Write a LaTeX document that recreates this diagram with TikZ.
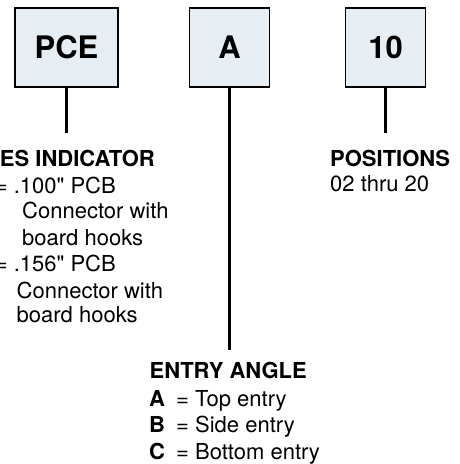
\documentclass[tikz,border=0pt]{standalone}
\usepackage{fontspec}
\newfontfamily\hv{TeX Gyre Heros}
\definecolor{boxfill}{HTML}{E6EEF4}
\tikzset{
  x=1pt,y=-1pt,
  codebox/.style={draw=black,line width=1.2pt,fill=boxfill,minimum height=79pt,inner sep=0pt,font=\hv\bfseries\fontsize{31}{31}\selectfont},
  stem/.style={draw=black,line width=2.2pt},
  txt/.style={inner sep=0pt,anchor=base west,font=\hv\fontsize{22}{22}\selectfont},
  head/.style={txt,font=\hv\bfseries\fontsize{22}{22}\selectfont}
}
\begin{document}
\begin{tikzpicture}
\useasboundingbox (0,0) rectangle (460,464);
\node[codebox,minimum width=103pt] (pce) at (66.5,47.5) {PCE};
\node[codebox,minimum width=79.5pt] (a) at (229.5,47.5) {A};
\node[codebox,minimum width=79.5pt] (ten) at (385.5,47.5) {10};
\coordinate (pe) at (66.5,133);
\coordinate (ae) at (229.5,350);
\coordinate (te) at (385.5,133);
\draw[stem] (pce.south) -- (pe);
\draw[stem] (a.south) -- (ae);
\draw[stem] (ten.south) -- (te);
\node[head,anchor=base east] (h1) at (155,166) {ES INDICATOR};
\node[txt,anchor=base east] (l1) at (116,193) {= .100" PCB};
\node[txt] (l2) at (22,218.5) {Connector with};
\node[txt] (l3) at (22,245) {board hooks};
\node[txt,anchor=base east] (l4) at (116,271.5) {= .156" PCB};
\node[txt] (l5) at (16.5,298) {Connector with};
\node[txt] (l6) at (16.5,322.5) {board hooks};
\node[head] (h2) at (330,166) {POSITIONS};
\node[txt] (p1) at (330,191) {02 thru 20};
\node[head] (h3) at (149.5,378.5) {ENTRY ANGLE};
\node[head] (b1) at (149,406) {A};
\node[txt] (t1) at (176,406) {= Top entry};
\node[head] (b2) at (149,432.5) {B};
\node[txt] (t2) at (176,432.5) {= Side entry};
\node[head] (b3) at (149,459) {C};
\node[txt] (t3) at (176,459) {= Bottom entry};
\end{tikzpicture}
\end{document}
